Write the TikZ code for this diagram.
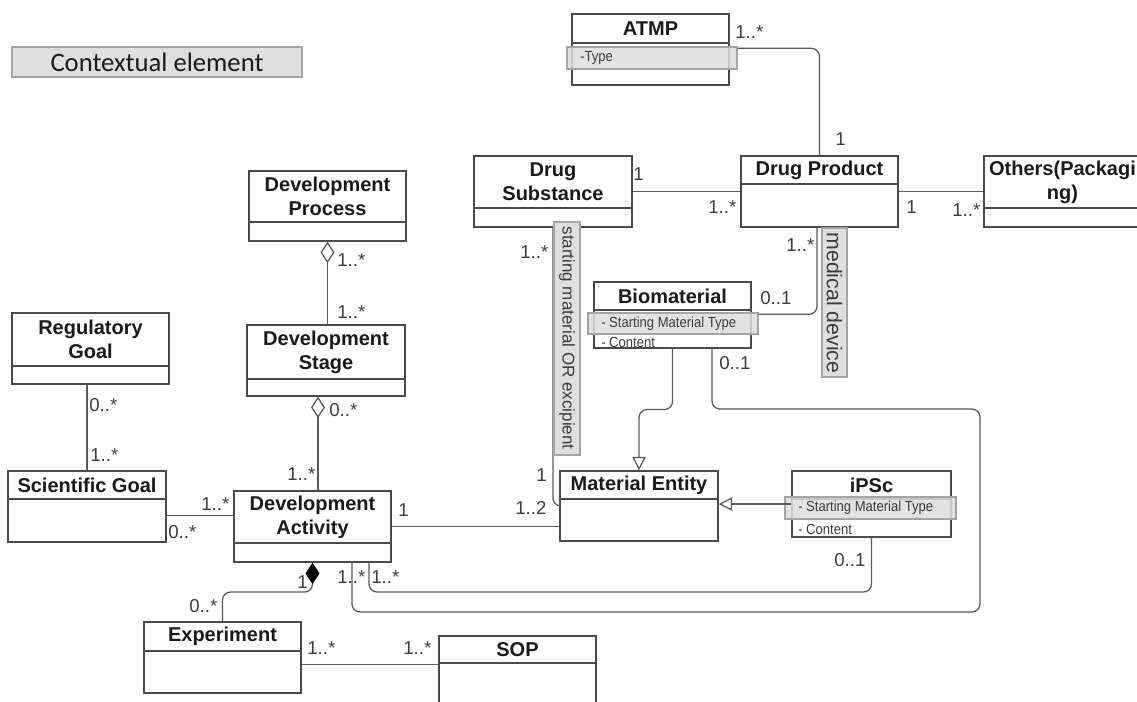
\documentclass[tikz,border=0pt]{standalone}
\usepackage{fontspec}
\setmainfont{Liberation Sans}
\newfontfamily\ctxfont{Carlito}
\newfontfamily\attrfont[FakeStretch=0.89]{Liberation Sans}
\usetikzlibrary{arrows.meta,fit,calc}
\definecolor{boxc}{HTML}{4A4A4A}
\definecolor{connc}{HTML}{5A5A5A}
\definecolor{multc}{HTML}{3C3C3C}
\definecolor{hlfill}{HTML}{DEDEDE}
\definecolor{hldraw}{HTML}{A4A4A4}
\definecolor{ttlc}{HTML}{1A1A1A}
\tikzset{
  x=0.75pt, y=-0.75pt,
  box/.style={draw=boxc, line width=1.1pt, fill=white, inner sep=0pt},
  boxline/.style={draw=boxc, line width=1.1pt},
  ttl/.style={font=\fontsize{15}{18}\selectfont\bfseries, text=ttlc, align=center, inner sep=0pt},
  conn/.style={draw=connc, line width=0.95pt, rounded corners=6pt},
  mult/.style={font=\fontsize{14}{16}\selectfont, text=multc, inner sep=0pt, anchor=west},
  hlrow/.style={draw=hldraw, fill=hlfill, fill opacity=0.85, line width=1pt, inner sep=0pt},
  attr/.style={font=\attrfont\fontsize{11}{13}\selectfont, text=multc, inner sep=0pt, anchor=west},
  notebox/.style={draw=hldraw, fill=hlfill, line width=1pt, inner sep=0pt},
  notetext/.style={text=multc, inner sep=0pt, rotate=-90},
  gen/.style={-{Triangle[open, length=10pt, width=10pt]}},
  agg/.style={{Diamond[open, length=16pt, width=10.5pt]}-},
  comp/.style={{Diamond[length=16pt, width=10.5pt, color=black, fill=black]}-},
}
\newcommand\umlclass[7]{%
  \node[box, fit={(#2,#3) (#4,#5)}] (#1) {};
  \draw[boxline] (#2,#6) -- (#4,#6);
  \node[ttl] (#1-t) at ({(#2+#4)/2},{(#3+#6)/2}) {#7};}
\begin{document}
\begin{tikzpicture}
\useasboundingbox (0,0) rectangle (1137,701);
\clip (0,0) rectangle (1137,701);
\fill[white] (0,0) rectangle (1137,701);

% contextual element legend
\node[draw=hldraw, fill=hlfill, line width=1.2pt, inner sep=0pt, fit={(12,47) (302,77)}] (ctx) {};
\node[font=\ctxfont\fontsize{20}{22}\selectfont, text=ttlc, inner sep=0pt] (ctx-t) at (157,62) {Contextual element};

% classes
\umlclass{atmp}{572}{14}{729}{85}{43}{ATMP}
\umlclass{ds}{474}{156}{632}{227}{208}{Drug\\Substance}
\umlclass{dp}{741}{156}{898}{227}{184}{Drug Product}
\umlclass{oth}{984}{156}{1141}{227}{208}{Others(Packagi\\ng)}
\umlclass{dproc}{249}{171}{406}{241}{222}{Development\\Process}
\umlclass{dstage}{247}{325}{405}{396}{379}{Development\\Stage}
\umlclass{rgoal}{12}{313}{169}{384}{366}{Regulatory\\Goal}
\umlclass{sgoal}{8}{471}{166}{542}{499}{Scientific Goal}
\umlclass{dact}{234}{491}{391}{562}{543}{Development\\Activity}
\umlclass{exp}{144}{622}{301}{693}{651}{Experiment}
\umlclass{sop}{439}{636}{596}{712}{663}{SOP}
\umlclass{bio}{594}{282}{751}{348}{310}{Biomaterial}
\umlclass{ment}{560}{471}{718}{541}{499}{Material Entity}
\umlclass{ipsc}{792}{471}{951}{537}{499}{iPSc}

% attributes
\node[hlrow, fit={(567,47) (737,69)}] (atmp-a) {};
\node[attr] (atmp-at) at (580,58) {-Type};
\node[hlrow, fit={(588,313) (758,334)}] (bio-a) {};
\node[attr] (bio-at) at (601,324) {- Starting Material Type};
\node[attr] (bio-ac) at (601,342) {- Content};
\node[hlrow, fit={(785,497) (956,519)}] (ipsc-a) {};
\node[attr] (ipsc-at) at (798,508) {- Starting Material Type};
\node[attr] (ipsc-ac) at (798,529) {- Content};

% connectors
\draw[conn] ([yshift=-1.5pt]atmp-a.north east) -| (dp.north);
\draw[conn] (ds.east) -- (dp.west);
\draw[conn] (dp.east) -- (oth.west);
\draw[conn] ([yshift=-1.5pt]bio-a.north east) -| ([xshift=-1.9pt]dp.south);
\draw[conn] (ds.south) |- (ment.west);
\draw[conn] (dact.east) -- (dact.east -| ment.west);
\draw[conn, gen] (bio.south) |- ($(bio.south)!.5!(ment.north)$) -| (ment.north);
\draw[conn, gen] (ipsc.west) -- (ipsc.west -| ment.east);
\draw[conn] ([xshift=29.6pt]bio.south) |- (980,409) -- (980,612) -| ([xshift=29.6pt]dact.south);
\draw[conn] (ipsc.south) |- (369,592) -- ([xshift=42.4pt]dact.south);
\draw[conn, agg] (dproc.south) -- (dproc.south |- dstage.north);
\draw[conn, agg] ([xshift=-6pt]dstage.south) -- ([xshift=-6pt]dstage.south |- dact.north);
\draw[conn] (sgoal.north |- rgoal.south) -- (sgoal.north);
\draw[conn] ([yshift=-7pt]sgoal.east) -- ([yshift=-7pt]sgoal.east -| dact.west);
\draw[conn, comp] (dact.south) |- ($(dact.south)!.5!(exp.north)$) -| (exp.north);
\draw[conn] ([yshift=-5pt]exp.east) -- ([yshift=-5pt]exp.east -| sop.west);

% role notes
\node[notebox, fit={(554,222) (580,455)}] (n1) {};
\node[notetext, font=\fontsize{12.75}{14}\selectfont] (n1-t) at (567,338) {starting material OR excipient};
\node[notebox, fit={(822,228) (847,377)}] (n2) {};
\node[notetext, font=\fontsize{16}{18}\selectfont] (n2-t) at (834.5,303) {medical device};

% multiplicities
\node[mult] (m1) at (735,32) {1..*};
\node[mult] (m2) at (835,139) {1};
\node[mult] (m3) at (633,174) {1};
\node[mult] (m4) at (708,207) {1..*};
\node[mult] (m5) at (906,207) {1};
\node[mult] (m6) at (952,210) {1..*};
\node[mult] (m7) at (520,252) {1..*};
\node[mult] (m8) at (536,475) {1};
\node[mult] (m9) at (515,508) {1..2};
\node[mult] (m10) at (398,510) {1};
\node[mult] (m11) at (786,245) {1..*};
\node[mult] (m12) at (760,298) {0..1};
\node[mult] (m13) at (719,363) {0..1};
\node[mult] (m14) at (834,560) {0..1};
\node[mult] (m15) at (337,577) {1..*};
\node[mult] (m16) at (371,577) {1..*};
\node[mult] (m17) at (297,582) {1};
\node[mult] (m18) at (189,606) {0..*};
\node[mult] (m19) at (307,648) {1..*};
\node[mult] (m20) at (403,648) {1..*};
\node[mult] (m21) at (201,504) {1..*};
\node[mult] (m22) at (168,532) {0..*};
\node[mult] (m23) at (287,474) {1..*};
\node[mult] (m24) at (90,455) {1..*};
\node[mult] (m25) at (89,405) {0..*};
\node[mult] (m26) at (329,410) {0..*};
\node[mult] (m27) at (337,260) {1..*};
\node[mult] (m28) at (337,312) {1..*};
\end{tikzpicture}
\end{document}
